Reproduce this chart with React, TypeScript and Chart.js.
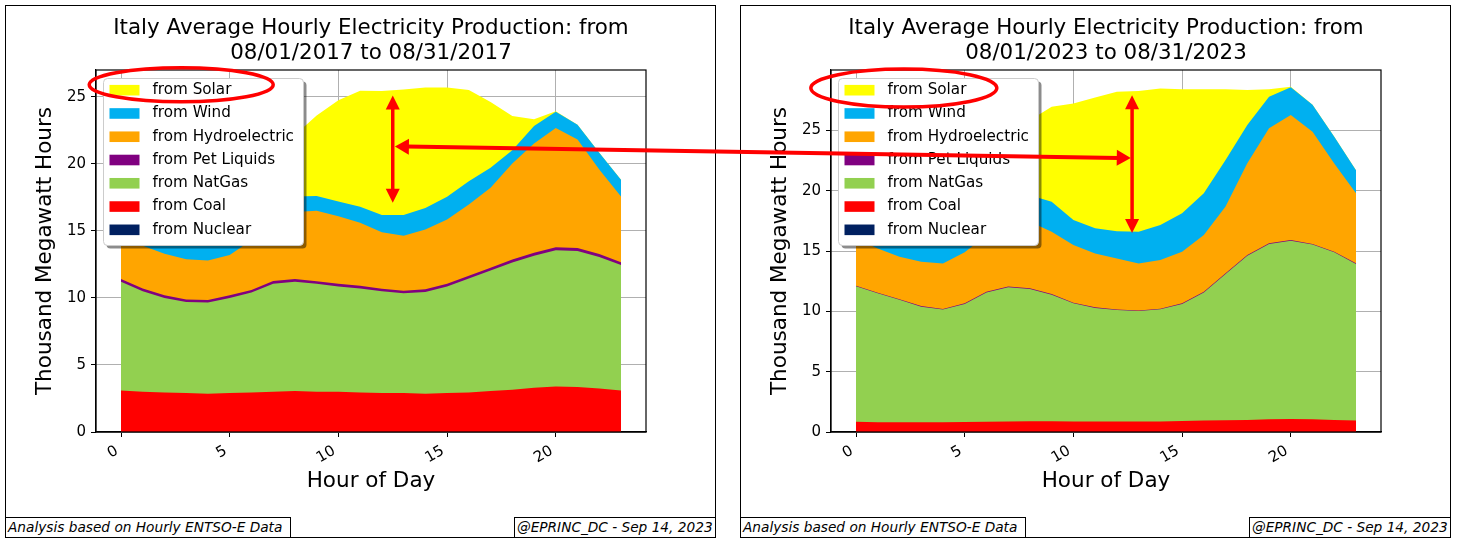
import { useEffect, useRef } from "react"
import { Chart, registerables } from "chart.js"

Chart.register(...registerables)

const FONT = "'DejaVu Sans', sans-serif"

const hours = [0, 1, 2, 3, 4, 5, 6, 7, 8, 9, 10, 11, 12, 13, 14, 15, 16, 17, 18, 19, 20, 21, 22, 23]
const xTicks = [0, 5, 10, 15, 20]
const yTicks = [0, 5, 10, 15, 20, 25]

// bottom of the stack first
const sourceLabels = ["from Nuclear", "from Coal", "from NatGas", "from Pet Liquids", "from Hydroelectric", "from Wind", "from Solar"]
const sourceColors = ["#002060", "#ff0000", "#92d050", "#800080", "#ffa500", "#00b0f0", "#ffff00"]

// August 2017, thousand MWh
const nuclear2017 = [0, 0, 0, 0, 0, 0, 0, 0, 0, 0, 0, 0, 0, 0, 0, 0, 0, 0, 0, 0, 0, 0, 0, 0]
const coal2017 = [3.1, 3.0, 2.95, 2.9, 2.85, 2.9, 2.95, 3.0, 3.05, 3.0, 3.0, 2.95, 2.9, 2.9, 2.85, 2.9, 2.95, 3.05, 3.15, 3.3, 3.4, 3.35, 3.25, 3.1]
const natGas2017 = [8.1, 7.5, 7.05, 6.8, 6.8, 7.1, 7.45, 8.05, 8.15, 8.05, 7.85, 7.75, 7.6, 7.45, 7.6, 7.95, 8.5, 9.0, 9.5, 9.85, 10.15, 10.15, 9.8, 9.35]
const petLiquids2017 = [0.22, 0.2, 0.2, 0.19, 0.19, 0.2, 0.2, 0.21, 0.21, 0.2, 0.2, 0.2, 0.19, 0.19, 0.2, 0.2, 0.21, 0.21, 0.22, 0.22, 0.23, 0.22, 0.22, 0.21]
const hydro2017 = [3.1, 3.2, 3.1, 3.0, 2.95, 3.0, 3.7, 4.25, 5.0, 5.25, 5.05, 4.7, 4.2, 4.1, 4.45, 4.8, 5.3, 5.95, 7.15, 8.15, 8.9, 8.1, 6.3, 4.9]
const wind2017 = [1.2, 1.2, 1.2, 1.2, 1.2, 1.15, 1.1, 1.1, 1.15, 1.1, 1.1, 1.2, 1.3, 1.55, 1.6, 1.7, 1.75, 1.5, 1.0, 1.3, 1.2, 1.1, 1.25, 1.25]
const solar2017 = [0, 0, 0, 0, 0, 0.05, 0.6, 2.3, 4.6, 6.0, 7.55, 8.65, 9.25, 9.35, 9.0, 8.15, 6.8, 4.9, 2.55, 0.5, 0.05, 0, 0, 0]

// August 2023, thousand MWh
const nuclear2023 = [0, 0, 0, 0, 0, 0, 0, 0, 0, 0, 0, 0, 0, 0, 0, 0, 0, 0, 0, 0, 0, 0, 0, 0]
const coal2023 = [0.85, 0.8, 0.8, 0.8, 0.8, 0.82, 0.85, 0.88, 0.9, 0.9, 0.88, 0.87, 0.86, 0.86, 0.88, 0.92, 0.95, 0.98, 1.0, 1.05, 1.07, 1.05, 1.0, 0.95]
const natGas2023 = [11.22, 10.7, 10.15, 9.59, 9.35, 9.79, 10.72, 11.11, 10.95, 10.48, 9.78, 9.41, 9.26, 9.17, 9.29, 9.69, 10.62, 12.12, 13.61, 14.53, 14.78, 14.48, 13.89, 12.98]
const petLiquids2023 = [0.06, 0.05, 0.05, 0.05, 0.05, 0.05, 0.05, 0.06, 0.06, 0.05, 0.05, 0.05, 0.04, 0.04, 0.05, 0.05, 0.05, 0.06, 0.06, 0.06, 0.06, 0.06, 0.05, 0.05]
const hydro2023 = [3.88, 3.65, 3.52, 3.66, 3.77, 4.24, 4.68, 5.11, 5.52, 5.17, 4.78, 4.47, 4.22, 3.9, 4.03, 4.28, 4.7, 5.52, 7.6, 9.53, 10.36, 9.3, 7.32, 5.8]
const wind2023 = [1.8, 1.8, 1.8, 1.8, 1.8, 1.9, 2.0, 2.1, 2.2, 2.48, 2.07, 2.08, 2.26, 2.62, 2.9, 3.18, 3.46, 3.87, 3.17, 2.62, 2.3, 2.22, 2.21, 1.92]
const solar2023 = [0, 0, 0, 0, 0, 0.1, 0.9, 3.0, 6.2, 7.87, 9.67, 10.85, 11.55, 11.68, 11.32, 10.28, 8.62, 5.86, 2.9, 0.62, 0.05, 0, 0, 0]

const series2017 = [nuclear2017, coal2017, natGas2017, petLiquids2017, hydro2017, wind2017, solar2017]
const series2023 = [nuclear2023, coal2023, natGas2023, petLiquids2023, hydro2023, wind2023, solar2023]

const titleLine1 = "Italy Average Hourly Electricity Production: from"
const title2017 = "08/01/2017 to 08/31/2017"
const title2023 = "08/01/2023 to 08/31/2023"
const footLeft = "Analysis based on Hourly ENTSO-E Data"
const footRight = "@EPRINC_DC - Sep 14, 2023"

// hand drawn marks, in data units of each chart
const ring2017 = { x: 2.77, y: 25.9 }
const ring2023 = { x: 2.2, y: 28.5 }
const span2017 = { x: 12.5, from: 25.1, to: 17.1 }
const span2023 = { x: 12.7, from: 27.9, to: 16.5 }
const link2017 = { x: 12.6, y: 21.3 }
const link2023 = { x: 12.64, y: 22.7 }

// axes frame + matplotlib style legend
const framePlugin = {
  id: "frame",
  afterDraw(chart: any) {
    const { ctx, chartArea: a } = chart
    ctx.save()
    ctx.strokeStyle = "#000"
    ctx.lineWidth = 1.2
    ctx.strokeRect(a.left, a.top, a.right - a.left, a.bottom - a.top)

    const lx = a.left + 7.5
    const ly = a.top + 8.5
    const lw = 200
    const lh = 167
    ctx.fillStyle = "rgba(0,0,0,0.45)"
    ctx.beginPath()
    ctx.roundRect(lx + 3, ly + 3, lw, lh, 4)
    ctx.fill()
    ctx.fillStyle = "#fff"
    ctx.beginPath()
    ctx.roundRect(lx, ly, lw, lh, 4)
    ctx.fill()
    ctx.strokeStyle = "#cccccc"
    ctx.lineWidth = 1
    ctx.stroke()

    const items = [...chart.data.datasets].reverse()
    ctx.font = `15.2px ${FONT}`
    ctx.textBaseline = "middle"
    items.forEach((ds: any, i: number) => {
      const cy = ly + 11.7 + i * 23.27
      ctx.fillStyle = ds.backgroundColor
      ctx.fillRect(lx + 6, cy - 5.3, 30, 10.6)
      ctx.fillStyle = "#000"
      ctx.fillText(ds.label, lx + 49, cy)
    })
    ctx.restore()
  },
}

function makeConfig(dateLine: string, series: number[][], yMax: number): any {
  return {
    type: "line",
    data: {
      datasets: series.map((values, k) => ({
        label: sourceLabels[k],
        data: hours.map((h, i) => ({ x: h, y: values[i] })),
        backgroundColor: sourceColors[k],
        borderWidth: 0,
        pointRadius: 0,
        tension: 0,
        fill: "origin",
      })),
    },
    options: {
      animation: false,
      responsive: true,
      maintainAspectRatio: false,
      events: [],
      layout: { padding: { left: 0, right: 69, top: 0, bottom: 40 } },
      plugins: {
        legend: { display: false },
        tooltip: { enabled: false },
        title: {
          display: true,
          fullSize: false,
          text: [titleLine1, dateLine],
          color: "#000",
          font: { family: FONT, size: 21.4, weight: "normal", lineHeight: "25px" },
          padding: { top: 9.5, bottom: 4.5 },
        },
      },
      scales: {
        x: {
          type: "linear",
          min: -1.15,
          max: 24.15,
          z: 1,
          afterBuildTicks: (axis: any) => {
            axis.ticks = xTicks.map((v) => ({ value: v }))
          },
          afterFit: (axis: any) => {
            axis.height = 65
          },
          ticks: {
            color: "#000",
            font: { family: FONT, size: 15 },
            minRotation: 30,
            maxRotation: 30,
            autoSkip: false,
            padding: 5,
            labelOffset: -4,
            callback: (v: number) => String(v),
          },
          grid: { color: "#b0b0b0", lineWidth: 1, tickColor: "#000", tickLength: 5 },
          border: { display: true, color: "#000", width: 1.2 },
          title: {
            display: true,
            text: "Hour of Day",
            color: "#000",
            font: { family: FONT, size: 21.5 },
            padding: { top: 0, bottom: 3 },
          },
        },
        y: {
          stacked: true,
          min: 0,
          max: yMax,
          z: 1,
          afterBuildTicks: (axis: any) => {
            axis.ticks = yTicks.map((v) => ({ value: v }))
          },
          afterFit: (axis: any) => {
            axis.width = 90
          },
          ticks: {
            color: "#000",
            font: { family: FONT, size: 15 },
            padding: 5,
            callback: (v: number) => String(v),
          },
          grid: { color: "#b0b0b0", lineWidth: 1, tickColor: "#000", tickLength: 5 },
          border: { display: true, color: "#000", width: 1.2 },
          title: {
            display: true,
            text: "Thousand Megawatt Hours",
            color: "#000",
            font: { family: FONT, size: 21.5 },
            padding: { top: 26.6, bottom: 0 },
          },
        },
      },
    },
    plugins: [framePlugin],
  }
}

function headAt(ctx: CanvasRenderingContext2D, tipX: number, tipY: number, fromX: number, fromY: number, len: number, half: number) {
  const ang = Math.atan2(tipY - fromY, tipX - fromX)
  const bx = tipX - len * Math.cos(ang)
  const by = tipY - len * Math.sin(ang)
  ctx.beginPath()
  ctx.moveTo(tipX, tipY)
  ctx.lineTo(bx + half * Math.sin(ang), by - half * Math.cos(ang))
  ctx.lineTo(bx - half * Math.sin(ang), by + half * Math.cos(ang))
  ctx.closePath()
  ctx.fill()
}

function doubleArrow(ctx: CanvasRenderingContext2D, x1: number, y1: number, x2: number, y2: number, lw: number, len: number, half: number) {
  const d = Math.hypot(x2 - x1, y2 - y1)
  const ux = (x2 - x1) / d
  const uy = (y2 - y1) / d
  ctx.lineWidth = lw
  ctx.beginPath()
  ctx.moveTo(x1 + ux * (len - 2), y1 + uy * (len - 2))
  ctx.lineTo(x2 - ux * (len - 2), y2 - uy * (len - 2))
  ctx.stroke()
  headAt(ctx, x1, y1, x2, y2, len, half)
  headAt(ctx, x2, y2, x1, y1, len, half)
}

function drawMarks(overlay: HTMLCanvasElement, a: Chart, b: Chart) {
  const ctx = overlay.getContext("2d")
  if (!ctx) return
  const base = overlay.getBoundingClientRect()
  const at = (chart: Chart, x: number, y: number) => {
    const r = chart.canvas.getBoundingClientRect()
    return [r.left - base.left + chart.scales.x.getPixelForValue(x), r.top - base.top + chart.scales.y.getPixelForValue(y)]
  }
  ctx.clearRect(0, 0, overlay.width, overlay.height)
  ctx.strokeStyle = "#ff0000"
  ctx.fillStyle = "#ff0000"
  ctx.lineCap = "butt"

  const r1 = at(a, ring2017.x, ring2017.y)
  const r2 = at(b, ring2023.x, ring2023.y)
  ctx.lineWidth = 3.5
  ctx.beginPath()
  ctx.ellipse(r1[0], r1[1], 92, 17, 0, 0, Math.PI * 2)
  ctx.stroke()
  ctx.beginPath()
  ctx.ellipse(r2[0], r2[1], 93, 19, 0, 0, Math.PI * 2)
  ctx.stroke()

  const s1a = at(a, span2017.x, span2017.from)
  const s1b = at(a, span2017.x, span2017.to)
  doubleArrow(ctx, s1a[0], s1a[1], s1b[0], s1b[1], 3.5, 14, 7)
  const s2a = at(b, span2023.x, span2023.from)
  const s2b = at(b, span2023.x, span2023.to)
  doubleArrow(ctx, s2a[0], s2a[1], s2b[0], s2b[1], 3.5, 14, 7)

  const l1 = at(a, link2017.x, link2017.y)
  const l2 = at(b, link2023.x, link2023.y)
  doubleArrow(ctx, l1[0], l1[1], l2[0], l2[1], 4, 14, 8)
}

function Panel({ left, canvasRef }: { left: number; canvasRef: React.RefObject<HTMLCanvasElement | null> }) {
  const foot = {
    position: "absolute" as const,
    top: 511,
    height: 19,
    border: "1px solid #000",
    background: "#fff",
    font: `italic 13.7px ${FONT}`,
    lineHeight: "19px",
    paddingLeft: 2,
    whiteSpace: "nowrap" as const,
    color: "#000",
  }
  return (
    <div
      style={{
        position: "absolute",
        left,
        top: 5,
        width: 711,
        height: 533,
        boxSizing: "border-box",
        border: "1px solid #000",
        background: "#fff",
      }}
    >
      <div style={{ position: "absolute", left: 0, top: 0, width: 709, height: 531 }}>
        <canvas ref={canvasRef} />
      </div>
      <div style={{ ...foot, left: -1, width: 282 }}>{footLeft}</div>
      <div style={{ ...foot, left: 508, width: 198 }}>{footRight}</div>
    </div>
  )
}

export default function App() {
  const leftRef = useRef<HTMLCanvasElement>(null)
  const rightRef = useRef<HTMLCanvasElement>(null)
  const overlayRef = useRef<HTMLCanvasElement>(null)

  useEffect(() => {
    if (!leftRef.current || !rightRef.current || !overlayRef.current) return
    const c1 = new Chart(leftRef.current, makeConfig(title2017, series2017, 27))
    const c2 = new Chart(rightRef.current, makeConfig(title2023, series2023, 30))
    drawMarks(overlayRef.current, c1, c2)
    return () => {
      c1.destroy()
      c2.destroy()
    }
  }, [])

  return (
    <div style={{ position: "fixed", left: 0, top: 0, width: 1461, height: 548, background: "#fff", overflow: "hidden" }}>
      <Panel left={5} canvasRef={leftRef} />
      <Panel left={740} canvasRef={rightRef} />
      <canvas
        ref={overlayRef}
        width={1461}
        height={548}
        style={{ position: "absolute", left: 0, top: 0, pointerEvents: "none", zIndex: 5 }}
      />
    </div>
  )
}
